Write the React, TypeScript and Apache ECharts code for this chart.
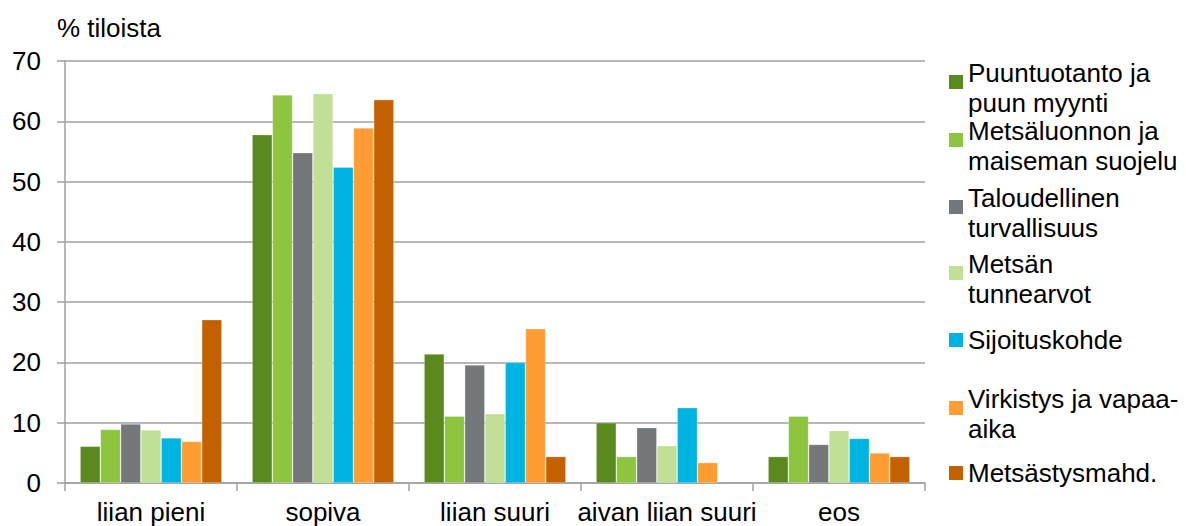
import React, { useEffect, useRef } from "react";
import * as echarts from "echarts";

const categories = ["liian pieni", "sopiva", "liian suuri", "aivan liian suuri", "eos"];
const seriesNames = [
  "Puuntuotanto ja puun myynti",
  "Metsäluonnon ja maiseman suojelu",
  "Taloudellinen turvallisuus",
  "Metsän tunnearvot",
  "Sijoituskohde",
  "Virkistys ja vapaa-aika",
  "Metsästysmahd.",
];
const legendLabels = [
  "Puuntuotanto ja\npuun myynti",
  "Metsäluonnon ja\nmaiseman suojelu",
  "Taloudellinen\nturvallisuus",
  "Metsän\ntunnearvot",
  "Sijoituskohde",
  "Virkistys ja vapaa-\naika",
  "Metsästysmahd.",
];
const colors = ["#5A8A1E", "#8DC53E", "#75787B", "#C1E096", "#00B4E1", "#FF9D34", "#C36100"];

const puuntuotanto = [6.1, 57.8, 21.4, 10.0, 4.4];
const metsaluonto = [8.9, 64.4, 11.1, 4.4, 11.1];
const taloudellinen = [9.8, 54.8, 19.6, 9.2, 6.4];
const tunnearvot = [8.8, 64.6, 11.5, 6.2, 8.7];
const sijoitus = [7.5, 52.4, 20.0, 12.5, 7.4];
const virkistys = [6.9, 58.9, 25.6, 3.4, 5.0];
const metsastys = [27.1, 63.6, 4.4, null, 4.4];
const seriesValues = [puuntuotanto, metsaluonto, taloudellinen, tunnearvot, sijoitus, virkistys, metsastys];

const yTicks = { min: 0, max: 70, interval: 10 };

const FONT = "'Liberation Sans', Arial, sans-serif";
const GRAY = "#A0A0A0";

// legend icon tops (px)
const iconTops = [75, 133, 200, 266, 333, 401, 466];

// square drawn in the upper part of a 14x30 icon box (so that it sits next to the first text line)
const TWO_LINE_ICON = "path://M0,0L0,0M0,2L14,2L14,16L0,16ZM14,30L14,30";

export default function App() {
  const ref = useRef<HTMLDivElement>(null);
  useEffect(() => {
    document.body.style.margin = "0";
    if (!ref.current) return;
    const chart = echarts.init(ref.current, undefined, { renderer: "svg" });
    const legends = seriesNames.map((name, i) => {
      const twoLine = legendLabels[i].includes("\n");
      return {
        data: [name],
        orient: "vertical",
        left: 949,
        top: twoLine ? iconTops[i] - 17 : iconTops[i] - 8,
        padding: 0,
        itemWidth: 14,
        itemHeight: twoLine ? 30 : 14,
        icon: twoLine ? TWO_LINE_ICON : "rect",
        itemStyle: { borderWidth: 0 },
        selectedMode: false,
        formatter: () => legendLabels[i],
        textStyle: {
          fontFamily: FONT,
          fontSize: 26,
          color: "#000",
          lineHeight: 30,
        },
      };
    });
    chart.setOption({
      animation: false,
      backgroundColor: "#fff",
      title: {
        text: "% tiloista",
        left: 57,
        top: 14,
        padding: 0,
        textStyle: { fontFamily: FONT, fontSize: 26, fontWeight: "normal", color: "#000", lineHeight: 28 },
      },
      legend: legends,
      grid: { left: 65, right: 261, top: 61, bottom: 43, containLabel: false },
      xAxis: {
        type: "category",
        data: categories,
        axisLine: { show: true, lineStyle: { color: GRAY, width: 1.5 } },
        axisTick: { show: true, length: 8, lineStyle: { color: GRAY, width: 1.5 } },
        axisLabel: { fontFamily: FONT, fontSize: 26, color: "#000", margin: 16, interval: 0 },
      },
      yAxis: {
        type: "value",
        min: yTicks.min,
        max: yTicks.max,
        interval: yTicks.interval,
        axisLine: { show: true, lineStyle: { color: GRAY, width: 1.5 } },
        axisTick: { show: true, length: 8, lineStyle: { color: GRAY, width: 1.5 } },
        splitLine: { show: true, lineStyle: { color: GRAY, width: 1.5 } },
        axisLabel: { fontFamily: FONT, fontSize: 26, color: "#000", margin: 24 },
      },
      series: seriesNames.map((name, i) => ({
        name,
        type: "bar",
        data: seriesValues[i],
        barGap: "0%",
        barCategoryGap: "17.5%",
        itemStyle: { color: colors[i], borderColor: "rgba(255,255,255,0.35)", borderWidth: 0.75 },
      })),
    });
    return () => chart.dispose();
  }, []);
  return <div ref={ref} style={{ width: 1186, height: 526 }} />;
}
